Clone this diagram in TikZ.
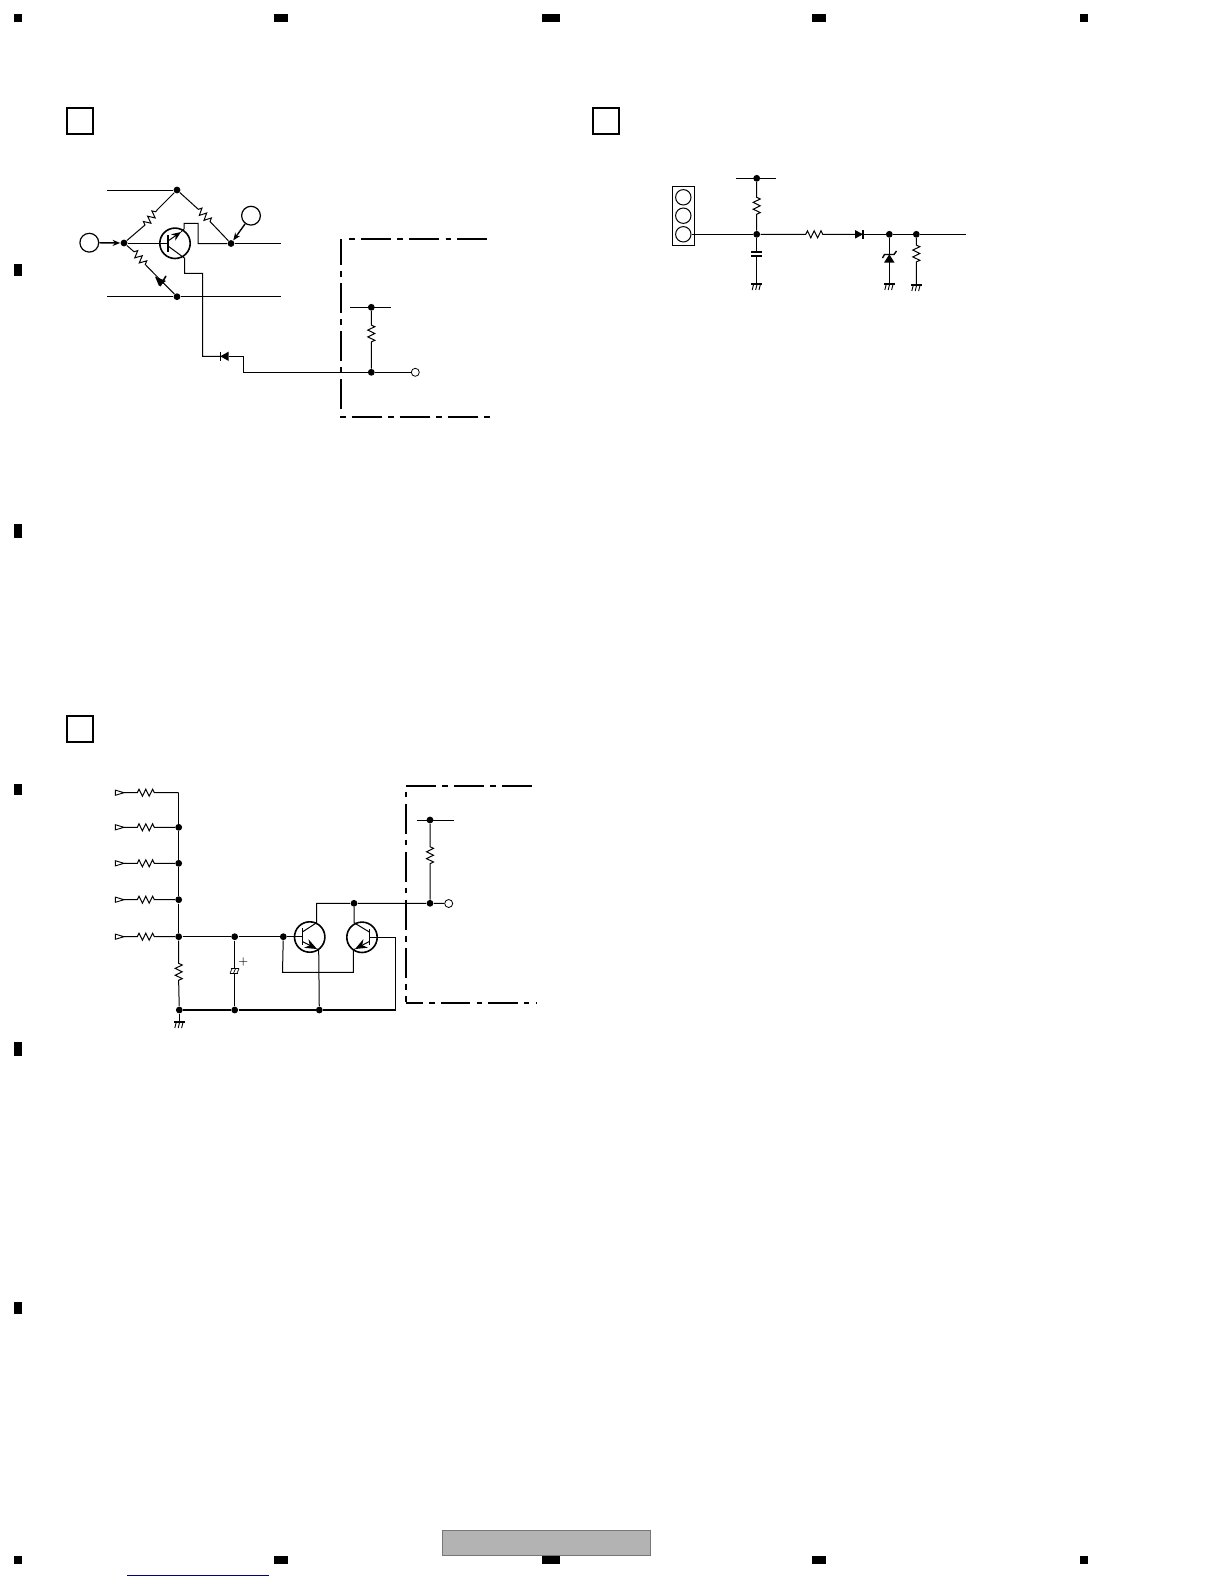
\documentclass[tikz,border=0pt]{standalone}
\usetikzlibrary{arrows.meta,decorations.pathmorphing,calc}
\definecolor{barfill}{HTML}{B3B3B3}
\definecolor{barline}{HTML}{777777}
\definecolor{linkblue}{HTML}{000080}
\tikzset{
  wire/.style={line width=0.5pt,line join=miter},
  thickbox/.style={draw,line width=1pt,minimum width=13.2pt,minimum height=12.6pt,inner sep=0pt},
  junction/.style={circle,fill=black,draw=none,minimum size=3.4pt,inner sep=0pt},
  openend/.style={circle,draw,line width=.4pt,fill=white,minimum size=4pt,inner sep=0pt},
  pinring/.style={circle,draw,line width=.6pt,minimum size=9.4pt,inner sep=0pt},
  smallring/.style={circle,draw,line width=.5pt,minimum size=7.7pt,inner sep=0pt},
  qring/.style={circle,draw,line width=.8pt,minimum size=15.2pt,inner sep=0pt},
  chain/.style={line width=1pt,dash pattern=on 2.75pt off 3.15pt on 15pt off 3.15pt},
  zz/.style={decoration={zigzag,segment length=3.4pt,amplitude=1.75pt}},
  pagemark/.style={fill=black,draw=none},
  tip/.style={-{Stealth[length=3.8pt,width=3pt]}},
  qtip/.style={-{Stealth[length=4.8pt,width=3.8pt]}},
  qtipbig/.style={-{Stealth[length=6pt,width=4.8pt]}},
  gnd/.pic={
    \draw[line width=.55pt] (-5.5,0) -- (5.5,0);
    \draw[line width=.45pt] (-3,0) -- (-4.5,6) (0.4,0) -- (-1.1,6) (3.8,0) -- (2.3,6);
  }
}
\newcommand{\Res}[4]{\draw[wire] (#1) -- #3 decorate[zz]{ -- #4 } -- (#2);}
\begin{document}
\begin{tikzpicture}[x=0.5pt,y=-0.5pt]
\useasboundingbox (0,0) rectangle (1224,1584);
\fill[white] (0,0) rectangle (1224,1584);

% page registration marks
\foreach \a/\b in {14/22,274/288,542/560,812/826,1080/1088}{
  \fill[pagemark] (\a,14) rectangle (\b,22);
  \fill[pagemark] (\a,1556) rectangle (\b,1564);
}
\foreach \a/\b in {264/276,524/538,784/795,1042/1056,1302/1314}{
  \fill[pagemark] (14,\a) rectangle (22,\b);
}
\fill[barfill] (442.5,1530) rectangle (650,1555.5);
\draw[barline,line width=.45pt] (442.5,1530) rectangle (650,1555.5);
\draw[linkblue,line width=.5pt] (127,1575) -- (268.7,1575);

% section squares
\node[thickbox] (secA) at (79.8,121) {};
\node[thickbox] (secB) at (606,121) {};
\node[thickbox] (secC) at (79.8,729) {};

%% ---------- Panel A ----------
\node[junction] (aTop) at (177,190) {};
\node[junction] (aIn) at (124,243) {};
\node[junction] (aOut) at (231,243.5) {};
\node[junction] (aLow) at (177,296.7) {};
\node[pinring] (aP1) at (89.3,242.7) {};
\node[pinring] (aP2) at (251,215.7) {};
\node[qring] (aQ) at (175,243.3) {};
\coordinate (aTopL) at (107,190);
\coordinate (aLowL) at (107,296.7);
\coordinate (aLowR) at (281,296.7);
\coordinate (aOutR) at (281,243.5);
\draw[wire] (aTopL) -- (aTop);
\draw[wire] (aLowL) -- (aLow) -- (aLowR);
\draw[wire,line width=.7pt,tip] (aP1) -- (aIn);
\draw[wire,line width=.7pt,tip] (aP2) -- (aOut);
\Res{aIn}{aTop}{(145,225)}{(157.5,209.5)}
\Res{aTop}{aOut}{(198.3,209.3)}{(211.7,223.3)}
% base
\draw[wire] (aIn) -- (168,243);
\draw[wire,line width=.7pt] (168,235) -- (168,251.7);
% emitter and collector of Q
\draw[wire,qtip] (168,241) -- (181,232);
\draw[wire] (181,232) -- (184,229) -- (184,223.3) -- (198,223.3) -- (198,243.5) -- (aOut);
\draw[wire] (aOut) -- (aOutR);
\draw[wire] (168,246) -- (184.7,258.3) -- (184.7,273.3) -- (202.7,273.3) -- (202.7,356.3) -- (220.3,356.3);
% lower branch with resistor and diode
\Res{aIn}{aLow}{(134,251.7)}{(147.3,266.7)}
\fill (155,276.5) -- (166,281) -- (159,286) -- cycle;
\draw[wire,line width=.8pt] (160,286) -- (166,276);
% diode to the box
\coordinate (aDa) at (220.3,356.3);
\coordinate (aDb) at (228.7,356.3);
\fill (aDa) -- (228.7,351.6) -- (228.7,361) -- cycle;
\draw[wire,line width=.7pt] (aDa) ++(0,-4.7) -- ++(0,9.4);
\node[junction] (aK) at (371.3,372.3) {};
\node[openend] (aEnd) at (415.3,372.3) {};
\draw[wire] (aDb) -- (243.3,356.3) -- (243.3,372.3) -- (aK) -- (aEnd);
\node[junction] (aV) at (371.3,307.3) {};
\draw[wire] (350,307.3) -- (391,307.3);
\Res{aV}{aK}{(371.3,325)}{(371.3,344.3)}
% chain box
\draw[chain,dash phase=0pt] (349.3,239) -- (486.7,239);
\draw[chain,dash phase=0pt] (340,416.7) -- (490,416.7);
\draw[chain,dash phase=8pt] (340.7,239) -- (340.7,410);

%% ---------- Panel B ----------
\node[draw,line width=.5pt,minimum width=11.2pt,minimum height=29.7pt,inner sep=0pt] (bConn) at (683.5,216) {};
\node[smallring] (bP1) at (683.3,197.3) {};
\node[smallring] (bP2) at (683.3,215.7) {};
\node[smallring] (bP3) at (683.3,234.3) {};
\node[junction] (bJ) at (756.7,234.3) {};
\node[junction] (bV) at (756.7,178.3) {};
\node[junction] (bZ) at (889.3,234.3) {};
\node[junction] (bR) at (916.3,234.3) {};
\coordinate (bE) at (966,234.3);
\coordinate (bDa) at (855,234.3);
\coordinate (bDb) at (863,234.3);
\coordinate (bG1) at (756.7,284);
\coordinate (bG2) at (889.3,284);
\coordinate (bG3) at (916.3,285);
\draw[wire] (736,178.3) -- (776,178.3);
\draw[wire] (bP3) -- (bJ);
\Res{bV}{bJ}{(756.7,197.3)}{(756.7,216.7)}
\Res{bJ}{bDa}{(805.7,234.3)}{(826,234.3)}
\fill (bDa) ++(0,-4.3) -- (bDb) -- ++(-8,4.3) -- cycle;
\draw[wire,line width=.7pt] (bDb) ++(0,-4.3) -- ++(0,8.6);
\draw[wire] (bDb) -- (bZ) -- (bR) -- (bE);
% capacitor
\draw[wire] (bJ) -- (756.7,251.7);
\draw[line width=1pt] (751.3,251.7) -- (762,251.7) (751.3,256.3) -- (762,256.3);
\draw[wire] (756.7,256.3) -- (bG1);
\pic at (bG1) {gnd};
% zener
\draw[wire] (bZ) -- (bG2);
\fill (889.3,254.3) -- (894.5,262.5) -- (884.1,262.5) -- cycle;
\draw[wire,line width=.7pt] (882.5,258) -- (884.5,254.5) -- (894,254.5) -- (896.5,251);
\pic at (bG2) {gnd};
% pull-down
\Res{bR}{bG3}{(916.3,245)}{(916.3,264)}
\pic at (bG3) {gnd};

%% ---------- Panel C ----------
\foreach \n/\y in {1/792.7,2/827.3,3/863.3,4/899.7,5/936.7}{
  \coordinate (cI\n) at (124,\y);
  \draw[line width=.45pt] (115.3,\y-2.6) -- (cI\n) -- (115.3,\y+2.6) -- cycle;
}
\coordinate (cC1) at (178.7,792.7);
\node[junction] (cC2) at (178.7,827.3) {};
\node[junction] (cC3) at (178.7,863.3) {};
\node[junction] (cC4) at (178.7,899.7) {};
\node[junction] (cC5) at (178.7,936.7) {};
\foreach \n/\y in {1/792.7,2/827.3,3/863.3,4/899.7,5/936.7}{
  \Res{cI\n}{cC\n}{(137.3,\y)}{(157.3,\y)}
}
\node[junction] (cG) at (179.3,1010) {};
\node[junction] (cCp) at (234.7,936.7) {};
\node[junction] (cCq) at (234.7,1010) {};
\node[junction] (cB) at (283.3,936.7) {};
\node[junction] (cEm) at (319.3,1010) {};
\coordinate (cGp) at (179.3,1022);
\draw[wire] (cC1) -- (cC2) -- (cC3) -- (cC4) -- (cC5);
\draw[wire] (cC5) -- (cCp) -- (cB);
\Res{cC5}{cG}{(178.7,963.3)}{(178.7,983.3)}
\draw[wire] (cG) -- (cGp);
\pic at (cGp) {gnd};
% electrolytic capacitor
\draw[wire] (cCp) -- (234.7,968.7);
\draw[wire] (234.7,973.3) -- (cCq);
\draw[line width=.4pt] (230.5,968.7) -- (239,968.7) (229.5,973.3) -- (238,973.3);
\draw[line width=.35pt] (232,968.7) -- (230,973.3) (235.5,968.7) -- (233.5,973.3) (239,968.7) -- (237,973.3);
\node[inner sep=0pt,font=\fontsize{5}{5}\selectfont] (cPlus) at (243.3,962.3) {+};
\draw[wire,line width=.65pt] (cG) -- (cCq) -- (cEm) -- (395.7,1010) -- (395.7,937.3) -- (377.3,937.3);
% transistors
\node[qring] (cQ1) at (309.7,937) {};
\node[qring] (cQ2) at (362,937.3) {};
\draw[wire] (cB) -- (302.3,936.7);
\draw[wire,line width=.7pt] (302.3,928.3) -- (302.3,945);
\draw[wire,line width=.7pt] (369.3,929) -- (369.3,945);
\draw[wire] (369.3,937.3) -- (377.3,937.3);
\node[junction] (cN) at (354,903.3) {};
\node[junction] (cK) at (430,903.3) {};
\node[junction] (cV) at (430,820) {};
\node[openend] (cEnd) at (448.7,903.5) {};
\draw[wire] (302.3,932) -- (316.7,922.7) -- (316.7,903.3) -- (cN) -- (cK) -- (cEnd);
\draw[wire] (cN) -- (354,922.7) -- (369.3,932);
\draw[wire,qtipbig] (302.3,941.5) -- (317,949);
\draw[wire] (317,949) -- (318.7,950) -- (cEm);
\draw[wire,qtipbig] (369.3,941.5) -- (355,949);
\draw[wire] (355,949) -- (353.3,950) -- (353.3,972.3) -- (282.5,972.3) -- (cB);
\draw[wire] (416.7,820) -- (454.3,820);
\Res{cV}{cK}{(430,846.7)}{(430,866.7)}
% chain box
\draw[chain,dash pattern=on 15pt off 3.15pt on 2.75pt off 3.15pt] (406,785.7) -- (531.7,785.7);
\draw[chain,dash pattern=on 2.75pt off 3.15pt on 15pt off 3.15pt] (406,791.7) -- (406,1002);
\draw[chain,dash pattern=on 8.7pt off 3.15pt on 2.75pt off 3.15pt on 14.6pt off 3.15pt on 2.75pt off 3.15pt on 14.6pt off 3.15pt on 2.75pt off 3.15pt on 14.6pt off 0pt] (405.5,1002.7) -- (537,1002.7);
\end{tikzpicture}
\end{document}
